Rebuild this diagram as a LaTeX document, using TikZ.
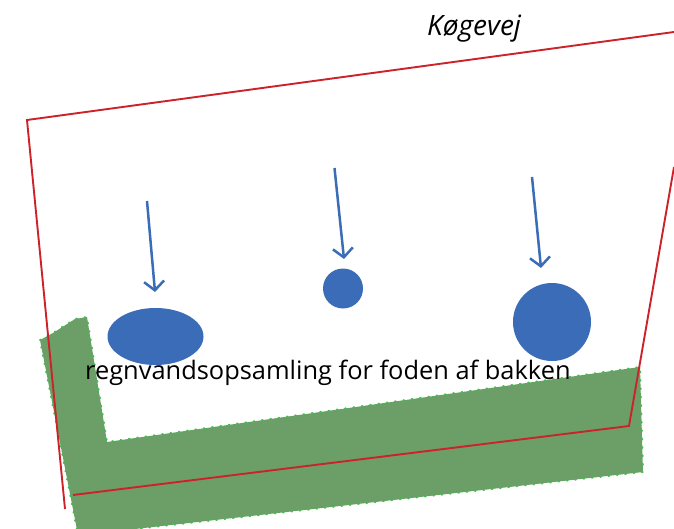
\documentclass[tikz,border=0pt]{standalone}
\usepackage{fontspec}
\setmainfont{Open Sans}
\usetikzlibrary{arrows.meta,shapes.geometric}
\definecolor{zblue}{HTML}{3B6CB7}
\definecolor{zred}{HTML}{CC2229}
\definecolor{zgreen}{HTML}{6C9E68}
\definecolor{zdot}{HTML}{3FC04C}
\tikzset{
  x=1pt,y=-1pt,
  zone/.style={fill=zgreen,draw=zdot,line width=2pt,dash pattern=on 0.8pt off 7.6pt,line cap=round},
  border/.style={draw=zred,line width=1.9pt,line join=miter},
  blob/.style={fill=zblue,draw=none,inner sep=0pt},
  rain/.style={draw=zblue,line width=2.5pt,-{Straight Barb[length=9pt,width=20pt,line width=2.5pt]}},
  lbl/.style={text=black,inner sep=0pt,anchor=base west,font=\fontsize{25.4}{28}\selectfont}
}
\begin{document}
\begin{tikzpicture}
\useasboundingbox (0,0) rectangle (674,529);
\begin{scope}
\clip (0,0) rectangle (674,529);
\draw[zone] (40,340) -- (53,333) -- (75,319) -- (87,317) -- (107,442) -- (640,367) -- (643,472) -- (135,529) -- (100,540) -- (79,540) -- cycle;
\draw[border] (65,509) -- (27,120) -- (674,32);
\draw[border] (674,167) -- (629,426) -- (73,495);
\end{scope}
\node[blob,ellipse,minimum width=96pt,minimum height=57pt] (e1) at (155.500,336.500) {};
\node[blob,circle,minimum size=40pt] (c2) at (343,288.500) {};
\node[blob,circle,minimum size=78pt] (c3) at (552,322) {};
\coordinate (s1) at (147,201);
\coordinate (t1) at (155,292);
\coordinate (s2) at (334.500,168);
\coordinate (t2) at (344,259);
\coordinate (s3) at (532,177);
\coordinate (t3) at (541,268);
\draw[rain] (s1) -- (t1);
\draw[rain] (s2) -- (t2);
\draw[rain] (s3) -- (t3);
\node[lbl] (cap) at (85,379) {regnvandsopsamling for foden af bakken};
\node[lbl,font=\itshape\fontsize{28}{30}\selectfont] (road) at (427,36) {Køgevej};
\end{tikzpicture}
\end{document}
